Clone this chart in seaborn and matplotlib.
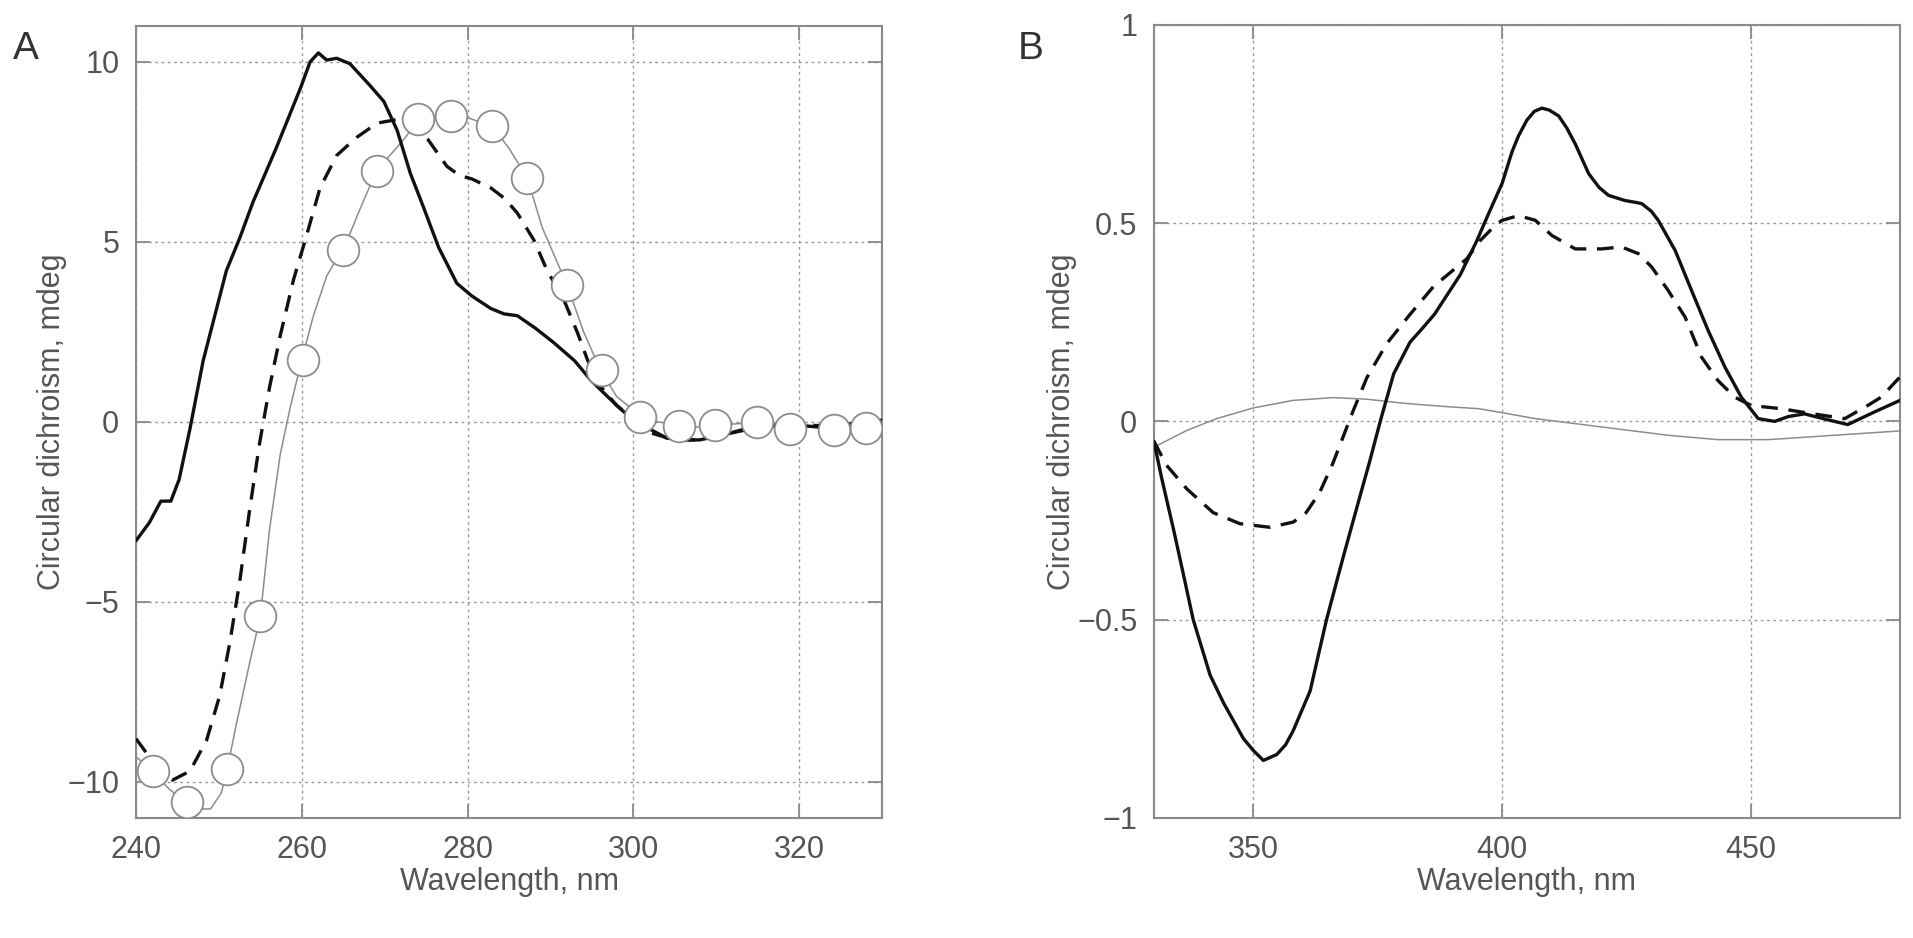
import matplotlib
matplotlib.use("Agg")
import matplotlib.pyplot as plt
import seaborn as sns
import pandas as pd

# Panel A - UV region
a_solid_x = [240, 241.6, 243, 244.2, 245.2, 246.5, 248.1, 250.9, 252.5, 254.1, 256.9, 259.8, 261, 262, 263,
             264.2, 265.8, 268.2, 269.9, 271.5, 273.1, 274.7, 276.5, 278.7, 280.5, 282.8, 284.4, 286, 288.2,
             290.4, 292.9, 294.9, 296.9, 298.5, 300, 302, 304, 306, 308, 310, 312, 315, 318, 320, 323, 326, 330]
a_solid_y = [-3.3, -2.8, -2.2, -2.2, -1.6, -0.2, 1.7, 4.2, 5.1, 6.1, 7.6, 9.25, 10.0, 10.25, 10.05,
             10.1, 9.95, 9.35, 8.9, 8.1, 6.9, 5.95, 4.85, 3.85, 3.5, 3.15, 3.0, 2.95, 2.6,
             2.2, 1.7, 1.15, 0.7, 0.35, 0.05, -0.2, -0.45, -0.5, -0.5, -0.4, -0.3, -0.15, -0.1, -0.1, -0.15, -0.05, 0.0]

a_dash_x = [240, 242.4, 244.4, 246.5, 248.5, 250.1, 251.3, 252.5, 253.7, 254.9, 256.1, 257.4, 259, 260.6,
            262.2, 264.2, 266.6, 269.1, 271.5, 273.5, 275.2, 277.5, 279, 280.5, 282.8, 284.5, 286, 288,
            289.6, 291.6, 293.3, 294.5, 296, 298, 300, 302, 305, 308, 311, 315, 320, 325, 330]
a_dash_y = [-8.8, -9.55, -9.95, -9.7, -8.85, -7.6, -6.15, -4.45, -2.45, -0.6, 0.95, 2.4, 3.95, 5.2,
            6.5, 7.4, 7.9, 8.3, 8.4, 8.2, 7.85, 7.1, 6.85, 6.75, 6.5, 6.2, 5.8, 5.05,
            4.2, 3.4, 2.45, 1.7, 1.0, 0.45, 0.1, -0.3, -0.5, -0.5, -0.35, -0.1, -0.1, -0.1, 0.05]

a_thin_x = [240, 242, 244, 246, 248, 249, 250.3, 251, 252.1, 253.7, 255, 256.1, 257.4, 258.6, 260, 261.4,
            263, 264, 265, 267, 269, 271, 272.5, 274, 276, 278, 280, 282.9, 285, 287.2, 289, 292, 294,
            296, 298, 301, 303, 305.5, 308, 310, 315, 319, 324, 328, 330]
a_thin_y = [-9.3, -9.7, -10.2, -10.55, -10.75, -10.75, -10.3, -9.65, -8.4, -6.7, -5.4, -3.0, -0.9, 0.4, 1.73, 2.95,
            4.05, 4.45, 4.78, 5.9, 6.97, 7.5, 7.9, 8.4, 8.5, 8.5, 8.45, 8.22, 7.6, 6.77, 5.4, 3.8, 2.5,
            1.45, 0.7, 0.15, 0.0, -0.1, -0.15, -0.1, 0.0, -0.1, -0.2, -0.18, -0.15]

a_mark_x = [242, 246.1, 251, 255, 260.1, 265, 269.1, 274, 278, 282.9, 287.2, 292, 296.2, 300.8,
            305.5, 309.8, 314.9, 318.9, 324.2, 328]
a_mark_y = [-9.7, -10.55, -9.65, -5.4, 1.73, 4.78, 6.97, 8.4, 8.5, 8.22, 6.77, 3.8, 1.45, 0.15,
            -0.1, -0.08, 0.01, -0.2, -0.22, -0.18]

# Panel B - visible region
b_solid_x = [330, 331.5, 333.9, 336, 337.9, 341.3, 344, 346, 348, 350, 352, 354.7, 356.5, 358, 361.4, 364.7,
             368.1, 371.4, 373.4, 375.5, 378.2, 381.5, 384, 386.4, 389, 391.6, 394.9, 397.5, 400, 402, 403.3,
             405, 406.5, 408, 409.5, 411.4, 413, 414.7, 417.4, 419.5, 421.4, 424.7, 427, 428.1, 430, 431.4,
             434.8, 438.1, 441.4, 444.8, 448.1, 451.5, 454.8, 457.5, 460.8, 465.5, 469.5, 474.9, 480]
b_solid_y = [-0.05, -0.14, -0.27, -0.39, -0.5, -0.64, -0.71, -0.755, -0.8, -0.83, -0.855, -0.84, -0.815, -0.78,
             -0.68, -0.5, -0.34, -0.19, -0.1, 0.0, 0.12, 0.2, 0.235, 0.27, 0.32, 0.37, 0.455, 0.53, 0.6, 0.68,
             0.72, 0.76, 0.782, 0.79, 0.785, 0.77, 0.74, 0.70, 0.625, 0.59, 0.57, 0.557, 0.552, 0.549, 0.53,
             0.507, 0.431, 0.33, 0.23, 0.137, 0.061, 0.007, 0.0, 0.012, 0.019, 0.004, -0.008, 0.024, 0.053]

b_dash_x = [330, 332.5, 336.6, 341.9, 347.3, 353.3, 358, 360.6, 363.3, 366, 370.1, 372.8, 376.8, 381.5,
            386.2, 392.9, 395.6, 398.9, 400, 403.3, 406.7, 410, 414.7, 420, 424, 427.4, 430.1, 433.4,
            436.8, 440.1, 443.4, 446.8, 450.1, 456.1, 462, 468.9, 473.5, 476.2, 480]
b_dash_y = [-0.05, -0.11, -0.17, -0.23, -0.258, -0.267, -0.254, -0.23, -0.18, -0.105, 0.028, 0.11, 0.196, 0.27,
            0.34, 0.41, 0.456, 0.498, 0.507, 0.519, 0.507, 0.469, 0.435, 0.435, 0.44, 0.423, 0.389, 0.33,
            0.263, 0.162, 0.103, 0.061, 0.04, 0.032, 0.02, 0.007, 0.04, 0.061, 0.112]

b_thin_x = [330, 336.6, 342.6, 350, 358, 366, 372.8, 380, 388, 395.3, 400, 406.7, 420, 433.4, 443.4,
            453.5, 466.8, 480]
b_thin_y = [-0.065, -0.023, 0.007, 0.034, 0.053, 0.06, 0.056, 0.046, 0.038, 0.032, 0.022, 0.007, -0.014,
            -0.035, -0.046, -0.046, -0.035, -0.024]

sns.set_style("white")
plt.rcParams['font.family'] = ['Liberation Sans', 'DejaVu Sans']

label_col = '#555555'
frame_col = '#8a8a8a'

fig = plt.figure(figsize=(19.13, 9.38), dpi=100)
axA = fig.add_axes([0.0711, 0.128, 0.3900, 0.8444])
axB = fig.add_axes([0.6032, 0.128, 0.3900, 0.8455])

# Panel A lines
sns.lineplot(x=a_thin_x, y=a_thin_y, ax=axA, color='#8c8c8c', linewidth=1.1, sort=False, zorder=2)
sns.lineplot(x=a_dash_x, y=a_dash_y, ax=axA, color='#111111', linewidth=2.4, sort=False, zorder=3,
             linestyle=(0, (5, 3.2)))
sns.lineplot(x=a_solid_x, y=a_solid_y, ax=axA, color='#111111', linewidth=2.4, sort=False, zorder=4)
sns.scatterplot(x=a_mark_x, y=a_mark_y, ax=axA, s=520, facecolor='white', edgecolor='#8c8c8c',
                linewidth=1.3, zorder=5)

# Panel B lines
sns.lineplot(x=b_thin_x, y=b_thin_y, ax=axB, color='#8c8c8c', linewidth=1.1, sort=False, zorder=2)
sns.lineplot(x=b_dash_x, y=b_dash_y, ax=axB, color='#111111', linewidth=2.4, sort=False, zorder=3,
             linestyle=(0, (5, 3.2)))
sns.lineplot(x=b_solid_x, y=b_solid_y, ax=axB, color='#111111', linewidth=2.4, sort=False, zorder=4)

axA.set_xlim(240, 330)
axA.set_ylim(-11, 11)
axA.set_xticks([240, 260, 280, 300, 320])
axA.set_yticks([-10, -5, 0, 5, 10])
axA.set_yticklabels(['\u221210', '\u22125', '0', '5', '10'])

axB.set_xlim(330, 480)
axB.set_ylim(-1, 1)
axB.set_xticks([350, 400, 450])
axB.set_yticks([-1, -0.5, 0, 0.5, 1])
axB.set_yticklabels(['\u22121', '\u22120.5', '0', '0.5', '1'])

for ax in (axA, axB):
    ax.grid(True, color='#9a9a9a', linestyle=(0, (2, 2.5)), linewidth=1.0)
    ax.set_axisbelow(True)
    for sp in ax.spines.values():
        sp.set_visible(True)
        sp.set_color(frame_col)
        sp.set_linewidth(1.5)
    ax.tick_params(direction='in', length=10, width=1.3, color=frame_col, labelcolor=label_col,
                   labelsize=22, pad=12, top=True, right=True, bottom=True, left=True)
    ax.set_xlabel('Wavelength, nm', fontsize=22, color=label_col, labelpad=2)
    ax.set_ylabel('Circular dichroism, mdeg', fontsize=22, color=label_col, labelpad=0)

fig.text(0.007, 0.948, 'A', fontsize=28, color='#333333', ha='left', va='center')
fig.text(0.532, 0.948, 'B', fontsize=28, color='#333333', ha='left', va='center')

fig.savefig('out.png', dpi=100)
